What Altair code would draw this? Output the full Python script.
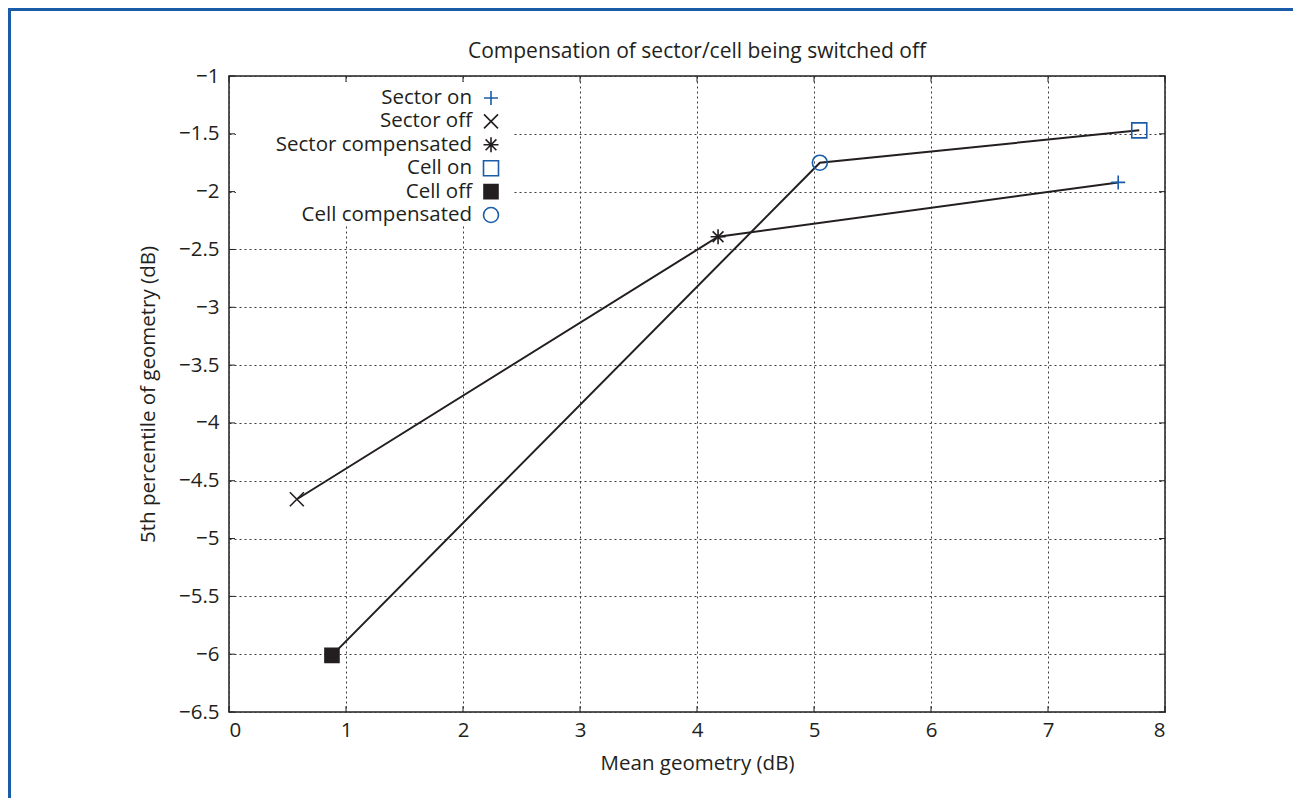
import altair as alt
import pandas as pd

# ---- data ----
series_names = ["Sector on", "Sector off", "Sector compensated", "Cell on", "Cell off", "Cell compensated"]
mean_geometry = [7.60, 0.58, 4.18, 7.78, 0.88, 5.05]
pct5_geometry = [-1.92, -4.66, -2.39, -1.47, -6.01, -1.75]
line_group = ["Sector", "Sector", "Sector", "Cell", "Cell", "Cell"]
line_order = [3, 1, 2, 3, 1, 2]

x_ticks = [0, 1, 2, 3, 4, 5, 6, 7, 8]
y_ticks = [-6.5, -6, -5.5, -5, -4.5, -4, -3.5, -3, -2.5, -2, -1.5, -1]
chart_title = "Compensation of sector/cell being switched off"

# ---- styles ----
BLUE = "#1a5ca8"
INK = "#231f20"
FONT = "Open Sans"
FS = 20.5
PLUS = "M-1,0L1,0M0,-1L0,1"
CROSS = "M-1,-1L1,1M-1,1L1,-1"
STAR = "M-1,0L1,0M0,-1L0,1M-0.72,-0.72L0.72,0.72M-0.72,0.72L0.72,-0.72"
marker_shapes = [PLUS, CROSS, STAR, "square", "square", "circle"]
marker_strokes = [BLUE, INK, INK, BLUE, INK, BLUE]
marker_fills = ["transparent", "transparent", "transparent", "transparent", INK, "transparent"]
marker_sizes = [196, 196, 225, 225, 196, 225]

W, H = 936, 636
PAD = {"left": 221, "top": 68, "right": 128, "bottom": 86}

df = pd.DataFrame({
    "name": series_names, "x": mean_geometry, "y": pct5_geometry,
    "group": line_group, "order": line_order,
    "shape": marker_shapes, "stroke": marker_strokes,
    "fill": marker_fills, "size": marker_sizes,
    "row": list(range(len(series_names))),
})

xs = alt.Scale(domain=[0, 8], nice=False, zero=False)
ys = alt.Scale(domain=[-6.5, -1], nice=False, zero=False)

label_expr = "replace(format(datum.value, '~g'), '-', '\u2212')"
common = dict(grid=True, gridDash=[2, 3], gridColor="#3a3a3a", gridWidth=1,
              ticks=False, domain=False, labelExpr=label_expr,
              labelFont=FONT, labelFontSize=FS, labelColor=INK,
              titleFont=FONT, titleFontSize=FS, titleFontWeight="normal", titleColor=INK)
x_axis = alt.Axis(values=x_ticks, labelPadding=8,
                  title="Mean geometry (dB)", titlePadding=13, **common)
y_axis = alt.Axis(values=y_ticks, labelPadding=10,
                  title="5th percentile of geometry (dB)", titlePadding=20, **common)

lines = alt.Chart(df).mark_line(color=INK, strokeWidth=2).encode(
    x=alt.X("x:Q", scale=xs, axis=x_axis),
    y=alt.Y("y:Q", scale=ys, axis=y_axis),
    detail="group:N",
    order="order:Q",
)

points = alt.Chart(df).mark_point(opacity=1, strokeWidth=1.6).encode(
    x=alt.X("x:Q", scale=xs),
    y=alt.Y("y:Q", scale=ys),
    shape=alt.Shape("shape:N", scale=None),
    stroke=alt.Stroke("stroke:N", scale=None),
    fill=alt.Fill("fill:N", scale=None),
    size=alt.Size("size:Q", scale=None),
)

title_df = pd.DataFrame({"text": [chart_title]})

# white box behind the legend (hides the grid there)
legend_box = alt.Chart(title_df).mark_rect(color="white").encode(
    x=alt.value(7), x2=alt.value(283), y=alt.value(6), y2=alt.value(150))

xt = pd.DataFrame({"t": x_ticks})
yt = pd.DataFrame({"t": y_ticks})
tick_len = 6
ticks_bottom = alt.Chart(xt).mark_rule(color=INK, strokeWidth=1).encode(
    x=alt.X("t:Q", scale=xs), y=alt.value(H), y2=alt.value(H - tick_len))
ticks_top = alt.Chart(xt).mark_rule(color=INK, strokeWidth=1).encode(
    x=alt.X("t:Q", scale=xs), y=alt.value(0), y2=alt.value(tick_len))
ticks_left = alt.Chart(yt).mark_rule(color=INK, strokeWidth=1).encode(
    y=alt.Y("t:Q", scale=ys), x=alt.value(0), x2=alt.value(tick_len))
ticks_right = alt.Chart(yt).mark_rule(color=INK, strokeWidth=1).encode(
    y=alt.Y("t:Q", scale=ys), x=alt.value(W), x2=alt.value(W - tick_len))

main = alt.layer(lines, legend_box, ticks_bottom, ticks_top, ticks_left, ticks_right, points)

row_scale = alt.Scale(domain=[0, 5], range=[22, 139], nice=False, zero=False)
legend_text = alt.Chart(df).mark_text(align="right", baseline="middle", fontSize=FS,
                                      font=FONT, color=INK).encode(
    x=alt.value(243),
    y=alt.Y("row:Q", scale=row_scale, axis=None),
    text="name:N",
)
legend_sym = alt.Chart(df).mark_point(opacity=1, strokeWidth=1.6).encode(
    x=alt.value(262),
    y=alt.Y("row:Q", scale=row_scale, axis=None),
    shape=alt.Shape("shape:N", scale=None),
    stroke=alt.Stroke("stroke:N", scale=None),
    fill=alt.Fill("fill:N", scale=None),
    size=alt.Size("size:Q", scale=None),
)
legend = alt.layer(legend_text, legend_sym)

title = alt.Chart(title_df).mark_text(align="center", baseline="alphabetic", fontSize=21,
                                      font=FONT, color=INK).encode(
    x=alt.value(W / 2), y=alt.value(-18), text="text:N")

border_top = alt.Chart(title_df).mark_rule(color=BLUE, strokeWidth=3).encode(
    x=alt.value(-PAD["left"]), x2=alt.value(W + PAD["right"]), y=alt.value(-PAD["top"] + 1.5))
border_left = alt.Chart(title_df).mark_rule(color=BLUE, strokeWidth=3).encode(
    x=alt.value(-PAD["left"] + 1.5), y=alt.value(-PAD["top"]), y2=alt.value(H + PAD["bottom"]))

chart = alt.layer(main, legend, title, border_top, border_left).resolve_scale(
    y="independent"
).properties(
    width=W, height=H,
    autosize=alt.AutoSizeParams(type="none"),
    padding=PAD,
).configure_view(
    stroke=INK, strokeWidth=1.5
)

chart.save("out.html", embed_options={"renderer": "svg", "actions": False})
